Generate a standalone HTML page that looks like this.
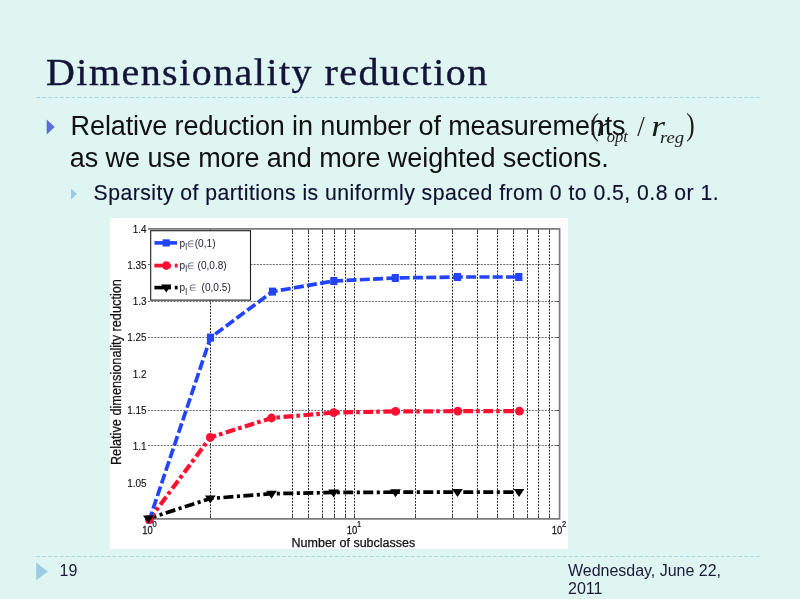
<!DOCTYPE html>
<html><head><meta charset="utf-8">
<style>
html,body{margin:0;padding:0;}
body{width:800px;height:599px;overflow:hidden;background:#dff5f2;}
svg{display:block;}
.sans{font-family:"Liberation Sans",Arial,sans-serif;}
.serif{font-family:"Liberation Serif","Times New Roman",serif;}
</style></head>
<body>
<svg width="800" height="599" viewBox="0 0 800 599">
<rect x="0" y="0" width="800" height="599" fill="#dff5f2"/>
<!-- title -->
<text class="serif" transform="translate(46,84.6) scale(1.08,1)" font-size="37" fill="#14143a" stroke="#14143a" stroke-width="0.35" textLength="408.5" lengthAdjust="spacing">Dimensionality reduction</text>
<line x1="36.5" y1="97.5" x2="762" y2="97.5" stroke="#a9d5e6" stroke-width="1.2" stroke-dasharray="3.6,2.25"/>
<!-- bullets -->
<polygon points="46.7,119.4 54.7,127 46.7,134.6" fill="#5a70d6"/>
<text class="sans" x="70.6" y="134.8" font-size="27" fill="#111111" textLength="555" lengthAdjust="spacing">Relative reduction in number of measurements</text>
<text class="sans" x="69.8" y="167.0" font-size="27" fill="#111111" textLength="539" lengthAdjust="spacing">as we use more and more weighted sections.</text>
<!-- formula -->
<g class="serif" fill="#1c1c1c">
<text transform="translate(590.6,135.2) scale(0.8,1)" font-size="31.5">(</text>
<text transform="translate(596.5,135.6) scale(1.12,1)" font-size="28" font-style="italic">r</text>
<text x="606.8" y="142.3" font-size="16.5" font-style="italic">opt</text>
<text transform="translate(637.2,135.6) scale(0.9,1)" font-size="30">/</text>
<text transform="translate(651.2,135.7) scale(1.22,1)" font-size="29" font-style="italic">r</text>
<text transform="translate(660,142.8) scale(1.1,1)" font-size="17" font-style="italic">reg</text>
<text transform="translate(686.2,135.2) scale(0.8,1)" font-size="31.5">)</text>
</g>
<polygon points="71,188.6 77,194 71,199.4" fill="#9ccbe5"/>
<text class="sans" x="93.6" y="199.6" font-size="21.2" fill="#0f0f30" stroke="#0f0f30" stroke-width="0.15" textLength="625" lengthAdjust="spacing">Sparsity of partitions is uniformly spaced from 0 to 0.5, 0.8 or 1.</text>

<!-- chart -->
<g id="chart">
<rect x="110" y="218" width="458" height="331" fill="#ffffff"/>
<g stroke="#707070" stroke-width="1" stroke-dasharray="2.1,1.1" fill="none">
<line x1="148.0" y1="264.5" x2="559.6" y2="264.5"/>
<line x1="148.0" y1="301.5" x2="559.6" y2="301.5"/>
<line x1="148.0" y1="337.5" x2="559.6" y2="337.5"/>
<line x1="148.0" y1="410.5" x2="559.6" y2="410.5"/>
<line x1="148.0" y1="445.5" x2="559.6" y2="445.5"/>
</g>
<g stroke="#262626" stroke-width="1" stroke-dasharray="1.9,1.3" fill="none">
<line x1="210.5" y1="228.9" x2="210.5" y2="518.9"/>
<line x1="292.5" y1="228.9" x2="292.5" y2="518.9"/>
<line x1="308.5" y1="228.9" x2="308.5" y2="518.9"/>
<line x1="322.5" y1="228.9" x2="322.5" y2="518.9"/>
<line x1="334.5" y1="228.9" x2="334.5" y2="518.9"/>
<line x1="345.5" y1="228.9" x2="345.5" y2="518.9"/>
<line x1="354.5" y1="228.9" x2="354.5" y2="518.9"/>
<line x1="415.5" y1="228.9" x2="415.5" y2="518.9"/>
<line x1="452.5" y1="228.9" x2="452.5" y2="518.9"/>
<line x1="477.5" y1="228.9" x2="477.5" y2="518.9"/>
<line x1="497.5" y1="228.9" x2="497.5" y2="518.9"/>
<line x1="513.5" y1="228.9" x2="513.5" y2="518.9"/>
<line x1="527.5" y1="228.9" x2="527.5" y2="518.9"/>
<line x1="538.5" y1="228.9" x2="538.5" y2="518.9"/>
<line x1="549.5" y1="228.9" x2="549.5" y2="518.9"/>
</g>
<g stroke="#333" stroke-width="1" fill="none">
<line x1="210.5" y1="515.9" x2="210.5" y2="518.9"/>
<line x1="210.5" y1="228.9" x2="210.5" y2="231.9"/>
<line x1="292.5" y1="515.9" x2="292.5" y2="518.9"/>
<line x1="292.5" y1="228.9" x2="292.5" y2="231.9"/>
<line x1="308.5" y1="515.9" x2="308.5" y2="518.9"/>
<line x1="308.5" y1="228.9" x2="308.5" y2="231.9"/>
<line x1="322.5" y1="515.9" x2="322.5" y2="518.9"/>
<line x1="322.5" y1="228.9" x2="322.5" y2="231.9"/>
<line x1="334.5" y1="515.9" x2="334.5" y2="518.9"/>
<line x1="334.5" y1="228.9" x2="334.5" y2="231.9"/>
<line x1="345.5" y1="515.9" x2="345.5" y2="518.9"/>
<line x1="345.5" y1="228.9" x2="345.5" y2="231.9"/>
<line x1="354.5" y1="515.9" x2="354.5" y2="518.9"/>
<line x1="354.5" y1="228.9" x2="354.5" y2="231.9"/>
<line x1="415.5" y1="515.9" x2="415.5" y2="518.9"/>
<line x1="415.5" y1="228.9" x2="415.5" y2="231.9"/>
<line x1="452.5" y1="515.9" x2="452.5" y2="518.9"/>
<line x1="452.5" y1="228.9" x2="452.5" y2="231.9"/>
<line x1="477.5" y1="515.9" x2="477.5" y2="518.9"/>
<line x1="477.5" y1="228.9" x2="477.5" y2="231.9"/>
<line x1="497.5" y1="515.9" x2="497.5" y2="518.9"/>
<line x1="497.5" y1="228.9" x2="497.5" y2="231.9"/>
<line x1="513.5" y1="515.9" x2="513.5" y2="518.9"/>
<line x1="513.5" y1="228.9" x2="513.5" y2="231.9"/>
<line x1="527.5" y1="515.9" x2="527.5" y2="518.9"/>
<line x1="527.5" y1="228.9" x2="527.5" y2="231.9"/>
<line x1="538.5" y1="515.9" x2="538.5" y2="518.9"/>
<line x1="538.5" y1="228.9" x2="538.5" y2="231.9"/>
<line x1="549.5" y1="515.9" x2="549.5" y2="518.9"/>
<line x1="549.5" y1="228.9" x2="549.5" y2="231.9"/>
<line x1="556.6" y1="264.5" x2="559.6" y2="264.5"/>
<line x1="556.6" y1="301.5" x2="559.6" y2="301.5"/>
<line x1="556.6" y1="337.5" x2="559.6" y2="337.5"/>
<line x1="556.6" y1="410.5" x2="559.6" y2="410.5"/>
<line x1="556.6" y1="445.5" x2="559.6" y2="445.5"/>
</g>
<polyline points="148.0,228.9 559.6,228.9 559.6,518.9 148.0,518.9" fill="none" stroke="#7c7c7c" stroke-width="1.7"/>
<g font-family="Liberation Sans, Arial, sans-serif" font-size="11.6" fill="#111" stroke="#111" stroke-width="0.12" text-anchor="end">
<text transform="translate(146.6,232.9) scale(0.86,1)">1.4</text>
<text transform="translate(146.6,268.5) scale(0.86,1)">1.35</text>
<text transform="translate(146.6,305.2) scale(0.86,1)">1.3</text>
<text transform="translate(146.6,341.3) scale(0.86,1)">1.25</text>
<text transform="translate(146.6,377.5) scale(0.86,1)">1.2</text>
<text transform="translate(146.6,414.2) scale(0.86,1)">1.15</text>
<text transform="translate(146.6,449.9) scale(0.86,1)">1.1</text>
<text transform="translate(146.6,486.5) scale(0.86,1)">1.05</text>
</g>
<g font-family="Liberation Sans, Arial, sans-serif" fill="#111" stroke="#111" stroke-width="0.25">
<text transform="translate(142.3,533.9) scale(0.8,1)" font-size="11.8">10</text><text transform="translate(152.5,526.6) scale(0.9,1)" font-size="8.3">0</text>
<text transform="translate(346.8,533.9) scale(0.8,1)" font-size="11.8">10</text><text transform="translate(357.0,526.6) scale(0.9,1)" font-size="8.3">1</text>
<text transform="translate(551.8,533.9) scale(0.8,1)" font-size="11.8">10</text><text transform="translate(562.0,526.6) scale(0.9,1)" font-size="8.3">2</text>
<text x="291.6" y="546.9" font-size="12" textLength="123.6" lengthAdjust="spacingAndGlyphs">Number of subclasses</text>
<text transform="translate(121.3,465.1) rotate(-90)" font-size="14" textLength="186" lengthAdjust="spacingAndGlyphs">Relative dimensionality reduction</text>
</g>
<polyline points="148.4,518.6 210.3,498.5 271.5,493.7 333.6,492.5 395.5,492.2 457.5,492.1 519,492.1" fill="none" stroke="#000000" stroke-width="3.7" stroke-dasharray="10,3.5,3.1,3.4" stroke-dashoffset="1.75"/>
<polyline points="149.3,519.6 210.3,437.4 271.5,418 333.7,412.6 395.5,411.4 457.8,411.2 519.4,411.2" fill="none" stroke="#ff0f30" stroke-width="4.2" stroke-dasharray="9.8,3.1,3.6,3.5" stroke-dashoffset="1.39"/>
<polyline points="149.5,519.5 210.5,337.6 272.5,291.6 333.8,281 395.3,278 457.5,277 518.8,277" fill="none" stroke="#2244ff" stroke-width="3.7" stroke-dasharray="10,3.3" stroke-dashoffset="1.8"/>
<rect x="145.9" y="515.5" width="7.2" height="8" fill="#2244ff"/>
<rect x="206.9" y="333.6" width="7.2" height="8" fill="#2244ff"/>
<rect x="268.9" y="287.6" width="7.2" height="8" fill="#2244ff"/>
<rect x="330.2" y="277.0" width="7.2" height="8" fill="#2244ff"/>
<rect x="391.7" y="274.0" width="7.2" height="8" fill="#2244ff"/>
<rect x="453.9" y="273.0" width="7.2" height="8" fill="#2244ff"/>
<rect x="515.2" y="273.0" width="7.2" height="8" fill="#2244ff"/>
<circle cx="149.3" cy="519.6" r="4.4" fill="#ff0f30"/>
<circle cx="210.3" cy="437.4" r="4.4" fill="#ff0f30"/>
<circle cx="271.5" cy="418" r="4.4" fill="#ff0f30"/>
<circle cx="333.7" cy="412.6" r="4.4" fill="#ff0f30"/>
<circle cx="395.5" cy="411.4" r="4.4" fill="#ff0f30"/>
<circle cx="457.8" cy="411.2" r="4.4" fill="#ff0f30"/>
<circle cx="519.4" cy="411.2" r="4.4" fill="#ff0f30"/>
<polygon points="143.0,515.6 153.8,515.6 148.4,523.6" fill="#000000"/>
<polygon points="204.9,495.5 215.7,495.5 210.3,503.5" fill="#000000"/>
<polygon points="266.1,490.7 276.9,490.7 271.5,498.7" fill="#000000"/>
<polygon points="328.2,489.5 339.0,489.5 333.6,497.5" fill="#000000"/>
<polygon points="390.1,489.2 400.9,489.2 395.5,497.2" fill="#000000"/>
<polygon points="452.1,489.1 462.9,489.1 457.5,497.1" fill="#000000"/>
<polygon points="513.6,489.1 524.4,489.1 519.0,497.1" fill="#000000"/>
<rect x="150.7" y="230.7" width="99.8" height="69.4" fill="#ffffff" stroke="#1e1e1e" stroke-width="1.1"/>
<line x1="154.4" y1="242.9" x2="177" y2="242.9" stroke="#2244ff" stroke-width="3.6"/>
<rect x="162.6" y="239.3" width="7.2" height="7.2" fill="#2244ff"/>
<line x1="154.4" y1="265.6" x2="171" y2="265.6" stroke="#ff0f30" stroke-width="3.8"/><line x1="174.8" y1="265.6" x2="177.6" y2="265.6" stroke="#ff0f30" stroke-width="3.8"/>
<ellipse cx="166.3" cy="265.6" rx="3.9" ry="4.3" fill="#ff0f30"/>
<line x1="154.4" y1="287.6" x2="171" y2="287.6" stroke="#000000" stroke-width="3.6"/><line x1="174.8" y1="287.6" x2="177.6" y2="287.6" stroke="#000000" stroke-width="3.6"/>
<polygon points="161.10000000000002,284.6 171.5,284.6 166.3,292.6" fill="#000000"/>
<g font-family="Liberation Sans, Arial, sans-serif" font-size="11" fill="#1a1a2e">
<text transform="translate(179.6,246.6) scale(0.92,1)">p<tspan font-size="9" dy="3.2">l</tspan><tspan dy="-3.2" dx="0" font-size="9" fill="#555a70">∈</tspan><tspan dx="0">(0,1)</tspan></text>
<text transform="translate(179.6,268.8) scale(0.92,1)">p<tspan font-size="9" dy="3.2">l</tspan><tspan dy="-3.2" dx="0" font-size="9" fill="#555a70">∈</tspan><tspan dx="0"> (0,0.8)</tspan></text>
<text transform="translate(179.6,291.4) scale(0.92,1)">p<tspan font-size="9" dy="3.2">l</tspan><tspan dy="-3.2" dx="1.8" font-size="9" fill="#555a70">∈</tspan><tspan dx="2.6"> (0,0.5)</tspan></text>
</g>
</g>

<!-- footer -->
<line x1="36.5" y1="556.5" x2="762" y2="556.5" stroke="#a9d5e6" stroke-width="1.2" stroke-dasharray="3.6,2.25"/>
<polygon points="36.2,562.6 47.8,571.4 36.2,580.2" fill="#9ccbe3"/>
<text class="sans" x="59.5" y="576.3" font-size="16" fill="#1a1a38">19</text>
<text class="sans" x="568" y="576.3" font-size="16" fill="#1a1a38" textLength="153" lengthAdjust="spacing">Wednesday, June 22,</text>
<text class="sans" x="568" y="594.3" font-size="16" fill="#1a1a38">2011</text>
</svg>
</body></html>
